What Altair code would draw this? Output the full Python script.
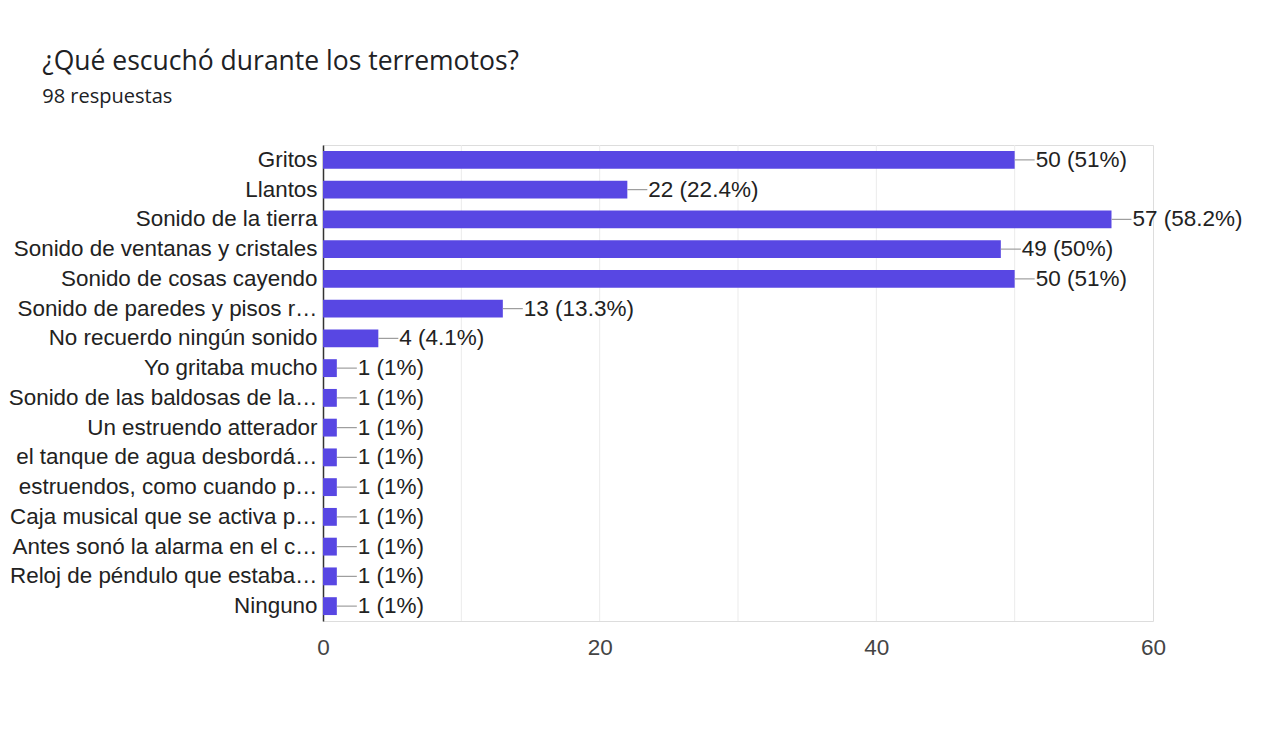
import altair as alt
import pandas as pd

categories = [
    "Gritos", "Llantos", "Sonido de la tierra", "Sonido de ventanas y cristales",
    "Sonido de cosas cayendo", "Sonido de paredes y pisos r…", "No recuerdo ningún sonido",
    "Yo gritaba mucho", "Sonido de las baldosas de la…", "Un estruendo atterador",
    "el tanque de agua desbordá…", "estruendos, como cuando p…", "Caja musical que se activa p…",
    "Antes sonó la alarma en el c…", "Reloj de péndulo que estaba…", "Ninguno",
]
counts = [50, 22, 57, 49, 50, 13, 4, 1, 1, 1, 1, 1, 1, 1, 1, 1]
value_labels = [
    "50 (51%)", "22 (22.4%)", "57 (58.2%)", "49 (50%)", "50 (51%)", "13 (13.3%)",
    "4 (4.1%)", "1 (1%)", "1 (1%)", "1 (1%)", "1 (1%)", "1 (1%)", "1 (1%)",
    "1 (1%)", "1 (1%)", "1 (1%)",
]
grid_values = [10, 20, 30, 40, 50]
tick_values = [0, 20, 40, 60]

FONT = "Liberation Sans"
TFONT = "Open Sans"
W, H = 830, 476
XMAX = 60
connector = 20 * XMAX / W  # connector length in data units (~20px)

df = pd.DataFrame({"cat": categories, "count": counts, "label": value_labels})
grid_df = pd.DataFrame({"g": grid_values})

xscale = alt.Scale(domain=[0, XMAX], nice=False)
yscale = alt.Scale(domain=categories, paddingInner=0.4, paddingOuter=0.2)

grid = alt.Chart(grid_df).mark_rule(color="#ebebeb", strokeWidth=1).encode(
    x=alt.X("g:Q", scale=xscale)
)

bars = alt.Chart(df).mark_bar(color="#5847E3").encode(
    x=alt.X(
        "count:Q", scale=xscale,
        axis=alt.Axis(values=tick_values, grid=False, ticks=False, domain=False,
                      labelFontSize=22.5, labelColor="#444444", labelFont=FONT,
                      labelFlush=False, labelPadding=15, title=None),
    ),
    y=alt.Y(
        "cat:N", scale=yscale, sort=categories,
        axis=alt.Axis(ticks=False, domain=True, domainColor="#333333", domainWidth=1.5,
                      labelFontSize=22.4, labelColor="#222222", labelFont=FONT,
                      labelPadding=6, labelLimit=500, title=None),
    ),
)

lines = alt.Chart(df).transform_calculate(
    x2v=f"datum.count + {connector}"
).mark_rule(color="#9e9e9e", strokeWidth=1.2).encode(
    x=alt.X("count:Q", scale=xscale),
    x2="x2v:Q",
    y=alt.Y("cat:N", scale=yscale, sort=categories),
)

texts = alt.Chart(df).transform_calculate(
    x2v=f"datum.count + {connector}"
).mark_text(align="left", baseline="middle", dx=1, fontSize=22.5, font=FONT, color="#222222").encode(
    x=alt.X("x2v:Q", scale=xscale),
    y=alt.Y("cat:N", scale=yscale, sort=categories),
    text="label:N",
)

chart = alt.layer(grid, bars, lines, texts).properties(
    width=W, height=H,
    title=alt.TitleParams(
        text="¿Qué escuchó durante los terremotos?",
        subtitle="98 respuestas",
        anchor="start", frame="bounds", dx=34,
        font=TFONT, fontSize=26.5, fontWeight="normal", color="#202124",
        subtitleFont=TFONT, subtitleFontSize=20, subtitleColor="#202124",
        subtitlePadding=11, offset=38,
    ),
    padding={"top": 41, "left": 0, "right": 5, "bottom": 5},
).configure_view(stroke="#ebebeb", strokeWidth=1.5).configure(background="white")

chart.save("out.html", embed_options={"renderer": "svg", "actions": False})
